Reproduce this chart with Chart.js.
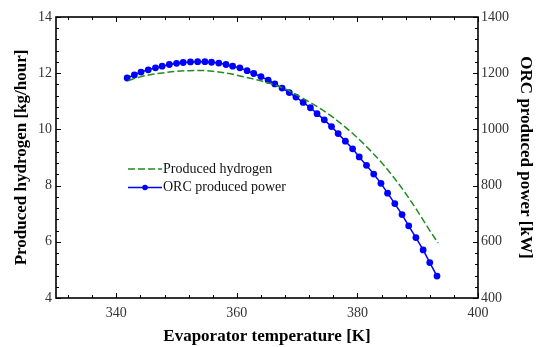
<!DOCTYPE html>
<html>
<head>
<meta charset="utf-8">
<script src="https://cdn.jsdelivr.net/npm/chart.js@4"></script>
<style>
  html, body { margin: 0; padding: 0; background: #fff; }
  #wrap { width: 536px; height: 347px; }
</style>
</head>
<body>
<div id="wrap"><canvas id="chart" width="536" height="347"></canvas></div>
<script>
// evaporator temperature [K] of the ORC points
var powerTemps = [341.8, 343.0, 344.1, 345.3, 346.5, 347.6, 348.8, 350.0, 351.1, 352.3,
    353.5, 354.7, 355.8, 357.0, 358.2, 359.3, 360.5, 361.7, 362.8, 364.0,
    365.2, 366.3, 367.5, 368.7, 369.8, 371.0, 372.2, 373.3, 374.5, 375.7,
    376.8, 378.0, 379.2, 380.3, 381.5, 382.7, 383.9, 385.0, 386.2, 387.4,
    388.5, 389.7, 390.9, 392.0, 393.2];
// ORC produced power [kW]
var powerValues = [1183, 1194, 1204, 1212, 1219, 1225, 1231, 1235, 1238, 1240,
    1241, 1241, 1239, 1236, 1231, 1225, 1219, 1209, 1199, 1188,
    1175, 1162, 1147, 1131, 1115, 1096, 1077, 1056, 1034, 1010,
    985, 958, 931, 902, 872, 841, 808, 773, 736, 697,
    657, 615, 571, 526, 478];

// produced hydrogen [kg/hour]
var hydrogenTemps = [342, 344, 346, 348, 350, 352, 354, 356, 358, 360, 362, 364, 366, 368,
    370, 372, 374, 376, 378, 380, 382, 384, 386, 388, 390, 392, 393.4];
var hydrogenValues = [11.74, 11.87, 11.96, 12.02, 12.07, 12.09, 12.10, 12.07, 12.01, 11.93,
    11.83, 11.73, 11.60, 11.44, 11.22, 10.98, 10.72, 10.42, 10.08, 9.70,
    9.28, 8.82, 8.30, 7.72, 7.08, 6.40, 5.95];

var xTicks = [340, 360, 380, 400];
var leftTicks = [4, 6, 8, 10, 12, 14];
var rightTicks = [400, 600, 800, 1000, 1200, 1400];

var serif = "'Liberation Serif', 'Times New Roman', serif";

function toPoints(xs, ys) {
    return xs.map(function(x, i) { return { x: x, y: ys[i] }; });
}

function plainLabel(value) {
    return String(value);
}

// box, inward tick marks and the legend inside the plot
var framePlugin = {
    id: 'frame',
    afterDraw: function(chart) {
        var ctx = chart.ctx;
        var a = chart.chartArea;
        var sx = chart.scales.x, sy = chart.scales.y, sy1 = chart.scales.y1;
        ctx.save();
        ctx.strokeStyle = '#000';
        ctx.lineWidth = 1;
        var v, p, len;
        // x ticks (bottom and top)
        for (v = 332; v <= 400; v += 4) {
            p = Math.round(sx.getPixelForValue(v)) + 0.5;
            len = (v % 20 === 0) ? 5 : 3;
            ctx.beginPath();
            ctx.moveTo(p, a.bottom); ctx.lineTo(p, a.bottom - len);
            ctx.moveTo(p, a.top); ctx.lineTo(p, a.top + len);
            ctx.stroke();
        }
        // left ticks
        for (v = 4; v <= 14.001; v += 0.4) {
            p = Math.round(sy.getPixelForValue(v)) + 0.5;
            len = (Math.abs(v - Math.round(v)) < 0.01 && Math.round(v) % 2 === 0) ? 5 : 3;
            ctx.beginPath();
            ctx.moveTo(a.left, p); ctx.lineTo(a.left + len, p);
            ctx.stroke();
        }
        // right ticks
        for (v = 400; v <= 1400; v += 40) {
            p = Math.round(sy1.getPixelForValue(v)) + 0.5;
            len = (v % 200 === 0) ? 5 : 3;
            ctx.beginPath();
            ctx.moveTo(a.right, p); ctx.lineTo(a.right - len, p);
            ctx.stroke();
        }
        // frame
        ctx.lineWidth = 1.6;
        ctx.strokeRect(a.left, a.top, a.right - a.left, a.bottom - a.top);

        // legend
        var lx = a.left + 72, ly1 = a.top + 152, ly2 = a.top + 170.5;
        ctx.lineWidth = 1.5;
        ctx.strokeStyle = '#228b22';
        ctx.setLineDash([7, 3]);
        ctx.beginPath(); ctx.moveTo(lx, ly1); ctx.lineTo(lx + 34, ly1); ctx.stroke();
        ctx.setLineDash([]);
        ctx.strokeStyle = '#0000ff';
        ctx.beginPath(); ctx.moveTo(lx, ly2); ctx.lineTo(lx + 34, ly2); ctx.stroke();
        ctx.fillStyle = '#0000ff';
        ctx.beginPath(); ctx.arc(lx + 17, ly2, 2.8, 0, Math.PI * 2); ctx.fill();
        ctx.fillStyle = '#111';
        ctx.font = '14px ' + serif;
        ctx.textBaseline = 'middle';
        ctx.textAlign = 'left';
        ctx.fillText('Produced hydrogen', lx + 35, ly1);
        ctx.fillText('ORC produced power', lx + 35, ly2);
        ctx.restore();
    }
};

var ctx = document.getElementById('chart').getContext('2d');
var chart = new Chart(ctx, {
    type: 'line',
    data: {
        datasets: [{
            label: 'Produced hydrogen',
            data: toPoints(hydrogenTemps, hydrogenValues),
            yAxisID: 'y',
            borderColor: '#228b22',
            borderWidth: 1.5,
            borderDash: [7, 3],
            pointRadius: 0,
            cubicInterpolationMode: 'monotone',
            fill: false
        }, {
            label: 'ORC produced power',
            data: toPoints(powerTemps, powerValues),
            yAxisID: 'y1',
            borderColor: '#0000ff',
            backgroundColor: '#0000ff',
            borderWidth: 1.5,
            pointRadius: 3.4,
            pointBorderWidth: 0,
            tension: 0,
            fill: false
        }]
    },
    options: {
        responsive: false,
        animation: false,
        devicePixelRatio: 1,
        layout: { padding: { top: 17, left: 0, right: 0, bottom: 0 } },
        plugins: {
            legend: { display: false },
            tooltip: { enabled: false }
        },
        scales: {
            x: {
                type: 'linear',
                min: 330,
                max: 400,
                afterBuildTicks: function(scale) {
                    scale.ticks = xTicks.map(function(v) { return { value: v }; });
                },
                afterFit: function(scale) { scale.height = 49; },
                grid: { display: false, drawTicks: false },
                border: { display: false },
                ticks: { padding: 7, color: '#333', font: { family: serif, size: 14 }, maxRotation: 0, callback: plainLabel },
                title: {
                    display: true,
                    text: 'Evaporator temperature [K]',
                    color: '#000',
                    padding: { top: 0, bottom: 0 },
                    font: { family: serif, size: 17, weight: 'bold' }
                }
            },
            y: {
                position: 'left',
                min: 4,
                max: 14,
                afterBuildTicks: function(scale) {
                    scale.ticks = leftTicks.map(function(v) { return { value: v }; });
                },
                afterFit: function(scale) { scale.width = 56; },
                grid: { display: false, drawTicks: false },
                border: { display: false },
                ticks: { padding: 4, color: '#333', font: { family: serif, size: 14 }, callback: plainLabel },
                title: {
                    display: true,
                    text: 'Produced hydrogen [kg/hour]',
                    color: '#000',
                    padding: { top: 11, bottom: 0 },
                    font: { family: serif, size: 17, weight: 'bold' }
                }
            },
            y1: {
                position: 'right',
                min: 400,
                max: 1400,
                afterBuildTicks: function(scale) {
                    scale.ticks = rightTicks.map(function(v) { return { value: v }; });
                },
                afterFit: function(scale) { scale.width = 58; },
                grid: { display: false, drawTicks: false },
                border: { display: false },
                ticks: { padding: 3, color: '#333', font: { family: serif, size: 14 }, callback: plainLabel },
                title: {
                    display: true,
                    text: 'ORC produced power [kW]',
                    color: '#000',
                    padding: { top: 0, bottom: 0 },
                    font: { family: serif, size: 17, weight: 'bold' }
                }
            }
        }
    },
    plugins: [framePlugin]
});
</script>
</body>
</html>
